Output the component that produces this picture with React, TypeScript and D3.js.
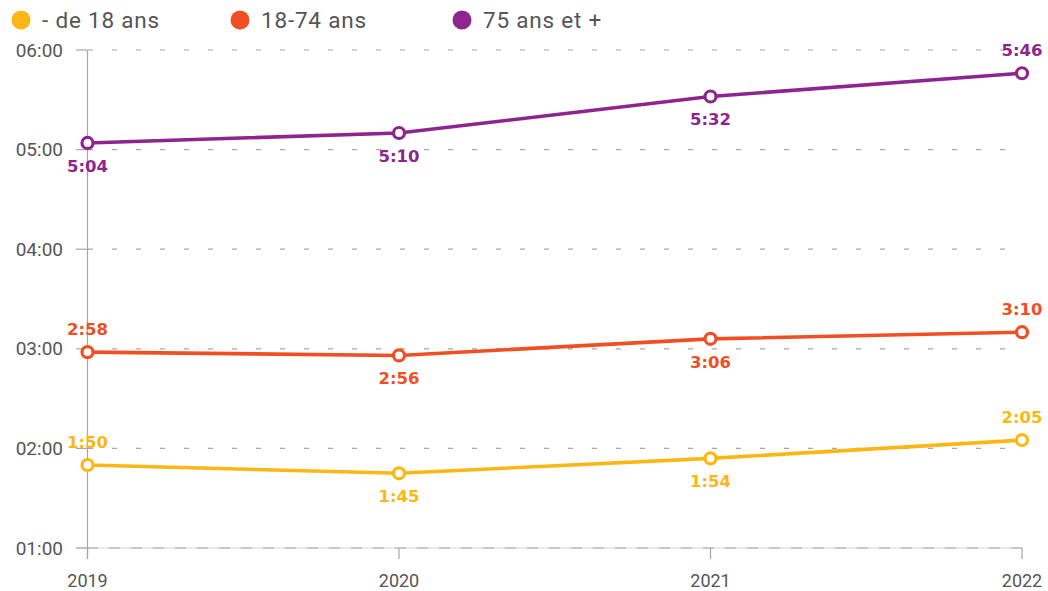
import React from "react";
import * as d3 from "d3";

const years = ["2019", "2020", "2021", "2022"];
const seriesNames = ["- de 18 ans", "18-74 ans", "75 ans et +"];
const seriesColors = ["#FDB714", "#F04E23", "#8E248E"];
// durations in minutes per day
const moins18 = [110, 105, 114, 125];
const adultes = [178, 176, 186, 190];
const plus75 = [304, 310, 332, 346];
// label placement: 1 = above the point, -1 = below
const moins18Pos = [1, -1, -1, 1];
const adultesPos = [1, -1, -1, 1];
const plus75Pos = [-1, -1, -1, 1];
const yTicks = [60, 120, 180, 240, 300, 360];

const W = 1048;
const H = 591;

const fmtHM = (m: number) => {
  const h = Math.floor(m / 60);
  const mm = m % 60;
  return `${h}:${String(mm).padStart(2, "0")}`;
};
const fmtTick = (m: number) => {
  const h = Math.floor(m / 60);
  return `${String(h).padStart(2, "0")}:00`;
};

export default function App() {
  const x = d3.scalePoint<string>().domain(years).range([87.5, 1022]);
  const y = d3.scaleLinear().domain([60, 360]).range([548, 50]);
  const line = d3
    .line<number>()
    .x((_, i) => x(years[i]) as number)
    .y((d) => y(d));

  const series = [
    { name: seriesNames[0], color: seriesColors[0], values: moins18, pos: moins18Pos },
    { name: seriesNames[1], color: seriesColors[1], values: adultes, pos: adultesPos },
    { name: seriesNames[2], color: seriesColors[2], values: plus75, pos: plus75Pos },
  ];
  const legendX = [21, 240, 462];
  const font = "Roboto, 'Noto Sans', sans-serif";

  return (
    <svg
      width={W}
      height={H}
      style={{ position: "absolute", left: 0, top: 0, background: "#fff" }}
      fontFamily={font}
    >
      {/* legend */}
      {series.map((s, i) => (
        <g key={s.name} transform={`translate(${legendX[i]},20)`}>
          <circle r={9.5} fill={s.color} />
          <text x={21} y={8} fontSize={22.5} fill="#555" letterSpacing={0.8}>
            {s.name}
          </text>
        </g>
      ))}

      {/* gridlines and y axis labels */}
      {yTicks.map((t) => (
        <g key={t}>
          {t === 60 && (
            <line x1={76} x2={1022} y1={y(t)} y2={y(t)} stroke="#d4d4d4" strokeWidth={1.2} />
          )}
          <line
            x1={76}
            x2={1022}
            y1={y(t)}
            y2={y(t)}
            stroke="#a6a6a6"
            strokeWidth={1.2}
            strokeDasharray={t === 60 ? "0 11 11 0" : "0 12 5 7"}
          />
          <line x1={76} x2={87.5} y1={y(t)} y2={y(t)} stroke="#a6a6a6" strokeWidth={1.2} />
          <text x={63} y={y(t) + 6.5} fontSize={19} fill="#555" textAnchor="end">
            {fmtTick(t)}
          </text>
        </g>
      ))}

      {/* y axis line */}
      <line x1={87.5} x2={87.5} y1={y(360)} y2={559} stroke="#a6a6a6" strokeWidth={1.2} />

      {/* x axis ticks and labels */}
      {years.map((yr) => (
        <g key={yr}>
          <line
            x1={x(yr)}
            x2={x(yr)}
            y1={548}
            y2={559}
            stroke="#a6a6a6"
            strokeWidth={1.2}
          />
          <text x={x(yr)} y={587} fontSize={18} fill="#555" textAnchor="middle">
            {yr}
          </text>
        </g>
      ))}

      {/* series lines, points and value labels */}
      {series.map((s) => (
        <g key={s.name}>
          <path d={line(s.values) ?? ""} fill="none" stroke={s.color} strokeWidth={3.6} />
          {s.values.map((v, i) => (
            <circle
              key={i}
              cx={x(years[i])}
              cy={y(v)}
              r={5.5}
              fill="#fff"
              stroke={s.color}
              strokeWidth={3.2}
            />
          ))}
          {s.values.map((v, i) => (
            <text
              key={"t" + i}
              x={x(years[i])}
              y={s.pos[i] > 0 ? y(v) - 17 : y(v) + 29}
              fontSize={16.5}
              fontWeight={700}
              fill={s.color}
              textAnchor="middle"
              fontFamily="'DejaVu Sans', sans-serif"
            >
              {fmtHM(v)}
            </text>
          ))}
        </g>
      ))}
    </svg>
  );
}
